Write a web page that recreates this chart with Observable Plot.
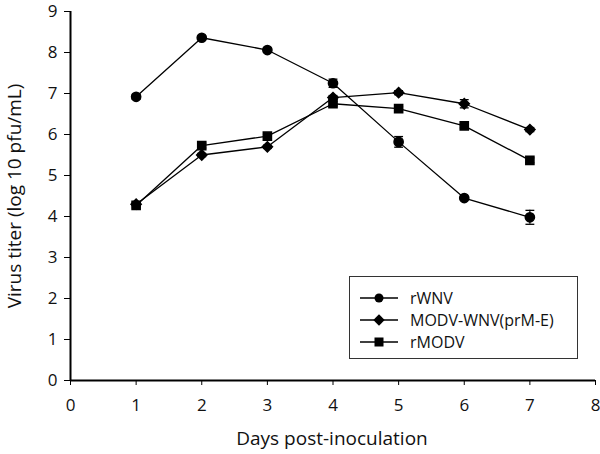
<!DOCTYPE html>
<html><head><meta charset="utf-8">
<script src="https://cdn.jsdelivr.net/npm/d3@7"></script>
<script src="https://cdn.jsdelivr.net/npm/@observablehq/plot@0.6"></script>
<style>
body{margin:0;background:#fff;font-family:"Open Sans",sans-serif;color:#111;}
#wrap{position:relative;width:600px;height:454px;}
#wrap svg text{font-size:17px !important;font-family:"Open Sans",sans-serif !important;}
#legend{position:absolute;left:349px;top:276px;width:229px;height:83px;border:1px solid #333;background:#fff;box-sizing:border-box;font-size:16px;line-height:22px;color:#111;padding-top:10px;}
.row{display:flex;align-items:center;height:22px;}
.row svg{margin-left:10px;margin-right:12px;}
.title{position:absolute;font-size:19px;white-space:nowrap;}
#xt{left:332px;top:438px;transform:translate(-50%,-50%);}
#yt{left:14px;top:196px;transform:translate(-50%,-50%) rotate(-90deg);}
</style>
</head><body><div id="wrap"></div>
<script>
const days = [1,2,3,4,5,6,7];
const seriesNames = ["rWNV","MODV-WNV(prM-E)","rMODV"];
const rWNV = [6.92,8.36,8.06,7.25,5.82,4.45,3.98];
const rWNVerr = [0.06,0.04,0.05,0.1,0.13,0.04,0.17];
const chimera = [4.3,5.5,5.7,6.9,7.02,6.75,6.12];
const chimeraErr = [0.05,0.04,0.04,0.05,0.05,0.1,0.05];
const rMODV = [4.27,5.73,5.96,6.75,6.63,6.21,5.37];
const rMODVerr = [0.06,0.06,0.04,0.05,0.05,0.05,0.06];
const xTicks = [0,1,2,3,4,5,6,7,8];
const yTicks = [0,1,2,3,4,5,6,7,8,9];
const xTitle = "Days post-inoculation";
const yTitle = "Virus titer (log 10 pfu/mL)";

const symbols = ["circle","diamond2","square"];
const values = [rWNV, chimera, rMODV];
const errs = [rWNVerr, chimeraErr, rMODVerr];
const data = [];
seriesNames.forEach((s,i)=>days.forEach((d,j)=>data.push({series:s, day:d, v:values[i][j], e:errs[i][j], sym:symbols[i]})));

const capSymbol = {draw(ctx,size){const w=Math.sqrt(size)/2; ctx.moveTo(-w,0); ctx.lineTo(w,0);}};

const chart = Plot.plot({
  width:600, height:454,
  marginLeft:70, marginRight:5, marginTop:11, marginBottom:74,
  style:{fontFamily:"'Open Sans',sans-serif", color:"#111", background:"#fff", overflow:"visible"},
  x:{domain:[0,8]},
  y:{domain:[0,9]},
  symbol:{domain:symbols, range:symbols},
  marks:[
    Plot.axisX({ticks:xTicks, tickSize:5, tickPadding:13, fontSize:17, label:null, stroke:"#000"}),
    Plot.axisY({ticks:yTicks, tickSize:6, tickPadding:7, fontSize:17, label:null, stroke:"#000"}),
    Plot.ruleX([0],{stroke:"#000", strokeWidth:2}),
    Plot.ruleY([0],{stroke:"#000", strokeWidth:2}),
    Plot.line(data,{x:"day", y:"v", z:"series", stroke:"#000", strokeWidth:1.3}),
    Plot.ruleX(data,{x:"day", y1:d=>d.v-d.e, y2:d=>d.v+d.e, stroke:"#000", strokeWidth:1.2}),
    Plot.dot(data,{x:"day", y:d=>d.v-d.e, symbol:()=>capSymbol, r:5, stroke:"#000", strokeWidth:1.3}),
    Plot.dot(data,{x:"day", y:d=>d.v+d.e, symbol:()=>capSymbol, r:5, stroke:"#000", strokeWidth:1.3}),
    Plot.dot(data,{x:"day", y:"v", symbol:"sym", fill:"#000", stroke:"#000", r:4.6})
  ]
});
const wrap = document.getElementById("wrap");
wrap.appendChild(chart);
chart.style.position="absolute"; chart.style.left="0"; chart.style.top="0";

const xt = document.createElement("div"); xt.className="title"; xt.id="xt"; xt.textContent=xTitle; wrap.appendChild(xt);
const yt = document.createElement("div"); yt.className="title"; yt.id="yt"; yt.textContent=yTitle; wrap.appendChild(yt);

const leg = document.createElement("div");
leg.id = "legend";
const shapes = {
  circle:'<circle cx="19" cy="7" r="4.5" fill="#000"/>',
  diamond2:'<path d="M19 1.3 L24.7 7 L19 12.7 L13.3 7Z" fill="#000"/>',
  square:'<rect x="14.5" y="2.5" width="9" height="9" fill="#000"/>'
};
seriesNames.forEach((s,i)=>{
  const r = document.createElement("div"); r.className="row";
  r.innerHTML = `<svg width="38" height="14"><line x1="0" x2="38" y1="7" y2="7" stroke="#000" stroke-width="1.3"/>${shapes[symbols[i]]}</svg><span>${s}</span>`;
  leg.appendChild(r);
});
wrap.appendChild(leg);
</script></body></html>
